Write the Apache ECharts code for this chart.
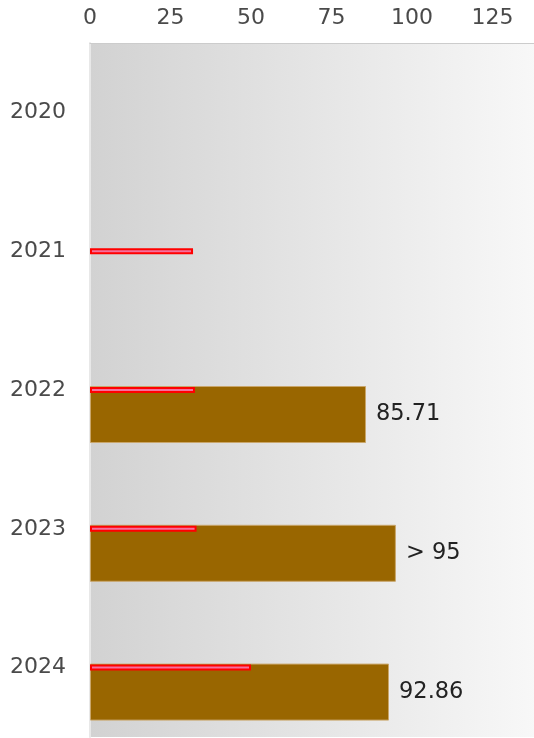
<!DOCTYPE html>
<html><head><meta charset="utf-8">
<script src="https://cdn.jsdelivr.net/npm/echarts@6/dist/echarts.min.js"></script>
<style>html,body{margin:0;padding:0;background:#fff}#c{width:534px;height:738px}</style>
</head><body><div id="c"></div>
<script>
const years = ['2020', '2021', '2022', '2023', '2024'];
const targetValues = [null, 32, 32.6, 33.1, 50];
const actualValues = [null, null, 85.71, 95, 92.86];
const actualLabels = ['', '', '85.71', '> 95', '92.86'];
const xMin = 0, xMax = 150, xStep = 25;

const chart = echarts.init(document.getElementById('c'), null, {renderer: 'canvas'});
const bg = new echarts.graphic.LinearGradient(0, 0, 1, 0, [
  {offset: 0, color: '#d2d2d2'},
  {offset: 1, color: '#fbfbfb'}
]);
const font = 'DejaVu Sans';
chart.setOption({
  animation: false,
  grid: [
    {left: 90, right: -39, top: 43, bottom: 1, show: true, backgroundColor: bg, borderWidth: 0,
     outerBoundsMode: 'none', containLabel: false},
    {left: 90, right: -39, top: 67.5, bottom: -23.5, outerBoundsMode: 'none', containLabel: false}
  ],
  xAxis: [
    {gridIndex: 0, type: 'value', position: 'top', min: xMin, max: xMax, interval: xStep,
     axisLine: {show: true, lineStyle: {color: '#cccccc'}}, axisTick: {show: false},
     splitLine: {show: false},
     axisLabel: {fontSize: 22, color: '#4a4a4a', margin: 14, fontFamily: font}},
    {gridIndex: 1, type: 'value', min: xMin, max: xMax, show: false, splitLine: {show: false}}
  ],
  yAxis: [
    {gridIndex: 0, type: 'category', data: years, inverse: true,
     axisLine: {show: true, lineStyle: {color: '#e8e8e8', width: 2}}, axisTick: {show: false},
     axisLabel: {fontSize: 22, color: '#4a4a4a', margin: 24, fontFamily: font, padding: [4, 0, 0, 0]}},
    {gridIndex: 1, type: 'category', data: years, inverse: true, show: false}
  ],
  series: [
    {type: 'bar', xAxisIndex: 1, yAxisIndex: 1, data: actualValues, barWidth: 57, z: 2,
     itemStyle: {color: '#996600', borderColor: '#c9a66b', borderWidth: 1},
     label: {show: true, position: 'right', distance: 10, fontSize: 22.5, color: '#222', fontFamily: font,
             formatter: p => actualLabels[p.dataIndex]}},
    {type: 'bar', xAxisIndex: 0, yAxisIndex: 0, data: targetValues, barWidth: 6, z: 3,
     itemStyle: {color: '#f4709e', borderColor: '#ff0000', borderWidth: 2}}
  ]
});
</script></body></html>
